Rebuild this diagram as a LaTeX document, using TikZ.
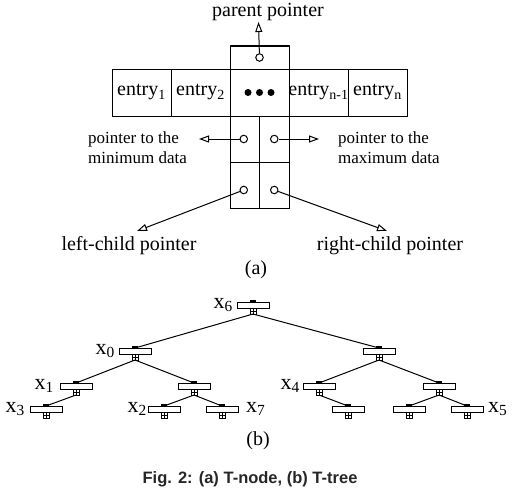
\documentclass[tikz,border=0pt]{standalone}
\usepackage{fontspec}
\setmainfont{Liberation Serif}
\newfontfamily\capfont{Liberation Sans}
\usetikzlibrary{arrows.meta,positioning}
\tikzset{
  ptr/.style={-{Triangle[open,length=10pt,width=7pt]}, line width=1pt},
  cell/.style={draw, line width=1pt, inner sep=0pt, outer sep=0pt, minimum width=59pt, minimum height=47pt},
  slot/.style={draw, line width=1pt, inner sep=0pt, outer sep=0pt, minimum width=29.5pt, minimum height=46pt},
  hole/.style={draw, circle, line width=1pt, inner sep=0pt, minimum size=7.5pt},
  lbl/.style={font=\fontsize{20}{24}\selectfont, inner sep=0pt},
  note/.style={font=\fontsize{17}{20}\selectfont, inner sep=0pt},
  tbar/.style={draw, line width=1pt, inner sep=0pt, outer sep=0pt, minimum width=32pt, minimum height=6pt},
  tkey/.style={draw, line width=0.7pt, inner sep=0pt, outer sep=0pt, minimum width=6pt, minimum height=6pt,
    path picture={\draw[line width=0.6pt] (path picture bounding box.north) -- (path picture bounding box.south)
      (path picture bounding box.west) -- (path picture bounding box.east);}},
  tlink/.style={line width=1pt},
}

\begin{document}
\begin{tikzpicture}[x=1pt,y=-1pt]
  \useasboundingbox (0,0) rectangle (518,495);

  % (a) T-node
  \node[cell] (e1) at (141.5,92.5) {};
  \node[cell, right=0pt of e1] (e2) {};
  \node[cell, right=0pt of e2] (dots) {};
  \node[cell, right=0pt of dots] (en1) {};
  \node[cell, right=0pt of en1] (en) {};
  \node[lbl] at (e1) {entry\textsubscript{1}};
  \node[lbl] at (e2) {entry\textsubscript{2}};
  \node[lbl] at (en1) {entry\textsubscript{n-1}};
  \node[lbl] at (en) {entry\textsubscript{n}};
  \foreach \dx in {-11.5,0,11.5}
    \fill ([xshift=\dx pt]dots.center) circle (3.5pt);
  \node[cell, minimum height=23pt, above=0pt of dots] (top) {};
  \node[slot, anchor=north west] (ml) at (dots.south west) {};
  \node[slot, anchor=north west] (mr) at (ml.north east) {};
  \node[slot, anchor=north west] (bl) at (ml.south west) {};
  \node[slot, anchor=north west] (br) at (bl.north east) {};

  \node[hole] (h0) at (top) {};
  \node[hole] (h1) at ([xshift=-1pt]ml.center) {};
  \node[hole] (h2) at (mr) {};
  \node[hole] (h3) at ([xshift=-1pt,yshift=-5pt]bl.center) {};
  \node[hole] (h4) at ([yshift=-5pt]br.center) {};

  \coordinate (pp) at (258.5,22);
  \coordinate (pmin) at (199,139);
  \coordinate (pmax) at (319,139);
  \coordinate (plc) at (137,231);
  \coordinate (prc) at (387,231);
  \draw[ptr] (h0) -- (pp);
  \draw[ptr] (h1) -- (pmin);
  \draw[ptr] (h2) -- (pmax);
  \draw[ptr] (h3) -- (plc);
  \draw[ptr] (h4) -- (prc);

  \node[lbl] (par) at (268,12) {parent pointer};
  \node[note, anchor=west] (mn1) at (88,139) {pointer to the};
  \node[note, anchor=west] (mn2) at (88,158) {minimum data};
  \node[note, anchor=west] (mx1) at (338,139) {pointer to the};
  \node[note, anchor=west] (mx2) at (338,158) {maximum data};
  \node[lbl] (lc) at (129,246) {left-child pointer};
  \node[lbl] (rc) at (390,246) {right-child pointer};
  \node[lbl] (capa) at (256,270) {(a)};

  % (b) T-tree
  \foreach \n/\x/\y in {x6/253/305, x0/135/351, nr/379/351, x1/76/386, na/194/386,
      x4/319/386, nb/439/386, x3/46/409, x2/164/409, x7/222/409, nc/348/409,
      nd/409/409, x5/467/409} {
    \node[tbar] (\n) at (\x,\y) {};
    \node[tkey, below=0pt of \n] (\n-k) {};
    \fill ([xshift=-3pt]\n.north) rectangle ([xshift=3pt,yshift=2.5pt]\n.north);
  }
  \foreach \a/\b in {x6/x0, x6/nr, x0/x1, x0/na, nr/x4, nr/nb, x1/x3, na/x2,
      na/x7, x4/nc, nb/nd, nb/x5}
    \draw[tlink] (\a-k.south) -- (\b.north);

  \node[lbl, font=\fontsize{22}{26}\selectfont, left=4pt of x6] (l6) {x\textsubscript{6}};
  \node[lbl, font=\fontsize{22}{26}\selectfont, left=4pt of x0] (l0) {x\textsubscript{0}};
  \node[lbl, font=\fontsize{22}{26}\selectfont, left=6pt of x1] (l1) {x\textsubscript{1}};
  \node[lbl, font=\fontsize{22}{26}\selectfont, left=5pt of x3] (l3) {x\textsubscript{3}};
  \node[lbl, font=\fontsize{22}{26}\selectfont, left=1pt of x2] (l2) {x\textsubscript{2}};
  \node[lbl, font=\fontsize{22}{26}\selectfont, right=8pt of x7] (l7) {x\textsubscript{7}};
  \node[lbl, font=\fontsize{22}{26}\selectfont, left=3pt of x4] (l4) {x\textsubscript{4}};
  \node[lbl, font=\fontsize{22}{26}\selectfont, right=5pt of x5] (l5) {x\textsubscript{5}};
  \node[lbl] (capb) at (258,441) {(b)};

  \node[font=\capfont\bfseries\fontsize{16.5}{20}\selectfont, text=black!85, anchor=base] (cap) at (250,483)
    {Fig. 2: (a) T-node, (b) T-tree};
\end{tikzpicture}
\end{document}
